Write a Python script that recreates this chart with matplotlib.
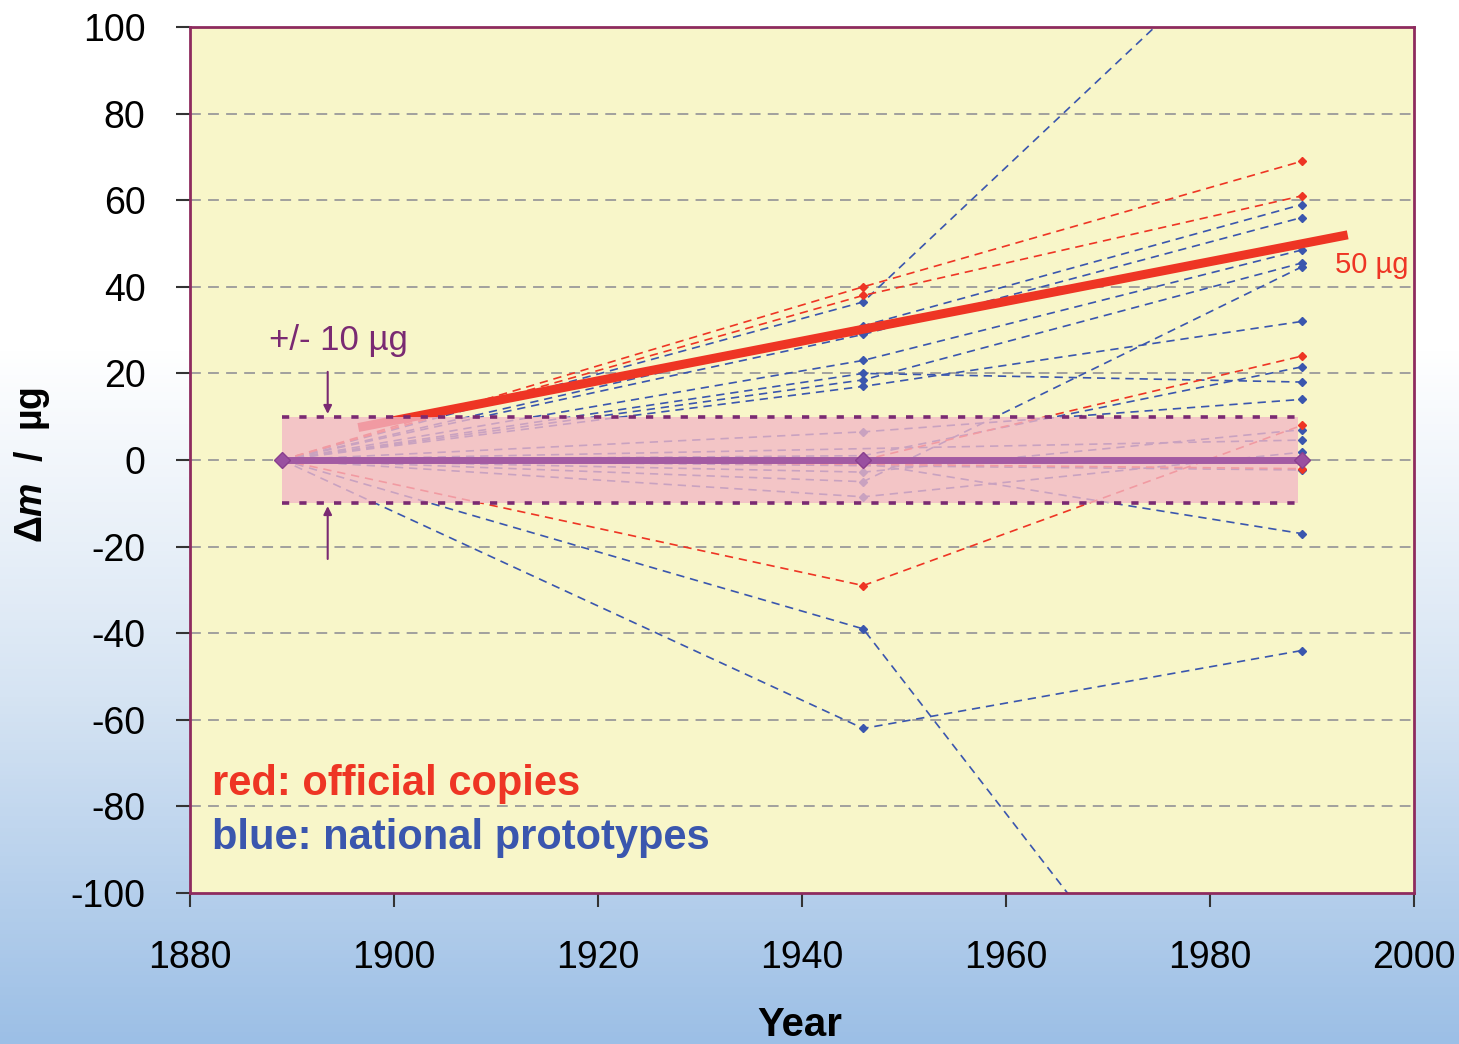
import numpy as np
import matplotlib.pyplot as plt
from matplotlib.colors import LinearSegmentedColormap

plt.rcParams['font.family'] = ['Liberation Sans', 'DejaVu Sans']
plt.rcParams['mathtext.fontset'] = 'custom'
plt.rcParams['mathtext.rm'] = 'Liberation Sans:bold'
plt.rcParams['mathtext.it'] = 'Liberation Sans:bold:italic'
plt.rcParams['axes.unicode_minus'] = False

# measurement campaigns
years = [1889, 1946, 1989]

# official copies (red), delta m in micrograms
red_series = [
    [0, 40, 69],
    [0, 38, 61],
    [0, -29, 8],
    [0, 0, 24],
    [0, -1, -2],
]

# national prototypes (blue)
blue_series = [
    [0, 36.5, 132],
    [0, 31, 59],
    [0, 29, 56],
    [0, 23, 48.5],
    [0, 20, 18],
    [0, 18.5, 45.5],
    [0, 17, 32],
    [0, 6.5, 14],
    [0, 1, 21.5],
    [0, -0.7, -17],
    [0, -2.8, 7],
    [0, -5, 44.6],
    [0, -8.5, 1.8],
    [0, -39, -170],
    [0, -62, -44],
]
# prototypes only measured in 1889 and 1989
blue_direct = [4.6, -2.3]

# reference line (international prototype) and mean trend
ref_vals = [0, 0, 0]
trend_x = [1896.5, 1993.5]
trend_y = [7.5, 52]

band_x = [1889, 1988.6]
band_lim = 10

xticks = [1880, 1900, 1920, 1940, 1960, 1980, 2000]
yticks = [-100, -80, -60, -40, -20, 0, 20, 40, 60, 80, 100]

RED = '#EE3524'
BLUE = '#3A56AE'
PURPLE = '#7A2A72'

fig = plt.figure(figsize=(14.59, 10.44), dpi=100)

# background gradient
bg = fig.add_axes([0, 0, 1, 1], zorder=-10)
grad = np.linspace(0, 1, 256).reshape(-1, 1)
cmap = LinearSegmentedColormap.from_list('bg', ['#9CBFE6', '#D6E4F3', '#FFFFFF', '#FFFFFF'])
bg.imshow(grad, aspect='auto', cmap=cmap, origin='lower', extent=[0, 1, 0, 1])
bg.axis('off')

ax = fig.add_axes([190 / 1459, 1 - 893 / 1044, 1224 / 1459, 866 / 1044])
ax.set_facecolor('#F8F6C9')

for yv in yticks[1:-1]:
    ax.axhline(yv, color='#9A9A9A', lw=1.3, dashes=(6, 4), zorder=1)

for s in blue_series:
    ax.plot(years, s, color=BLUE, lw=1.2, dashes=(5, 3.5), marker='D', ms=4.5, zorder=2)
for v in blue_direct:
    ax.plot([years[0], years[2]], [0, v], color=BLUE, lw=1.2, dashes=(5, 3.5),
            marker='D', ms=4.5, zorder=2)
for s in red_series:
    ax.plot(years, s, color=RED, lw=1.2, dashes=(5, 3.5), marker='D', ms=4.5, zorder=2)

ax.plot(trend_x, trend_y, color=RED, lw=6.5, solid_capstyle='butt', zorder=3)

# +/- 10 ug band
ax.fill_between(band_x, -band_lim, band_lim, color='#F2B8C6', alpha=0.78, lw=0, zorder=4)
for yb in (band_lim, -band_lim):
    ax.plot(band_x, [yb, yb], color=PURPLE, lw=2.6, dashes=(2, 2.8), zorder=5)

ax.plot(years, ref_vals, color='#A35BA3', lw=5, marker='D', ms=8,
        mec='#8A3F8E', mfc='#9A4FA0', zorder=6)

ax.annotate('', xy=(1893.5, band_lim), xytext=(1893.5, 21),
            arrowprops=dict(arrowstyle='-|>', color=PURPLE, lw=1.5, mutation_scale=12), zorder=7)
ax.annotate('', xy=(1893.5, -band_lim), xytext=(1893.5, -23.5),
            arrowprops=dict(arrowstyle='-|>', color=PURPLE, lw=1.5, mutation_scale=12), zorder=7)
ax.text(1887.7, 27.5, '+/- 10 µg', color=PURPLE, fontsize=25, ha='left', va='center', zorder=7)
ax.text(1992.3, 45, '50 µg', color=RED, fontsize=21, ha='left', va='center', zorder=7,
        clip_on=True)

ax.text(1882.2, -74.8, 'red: official copies', color=RED, fontsize=30, fontweight='bold',
        ha='left', va='center')
ax.text(1882.2, -87.2, 'blue: national prototypes', color=BLUE, fontsize=30, fontweight='bold',
        ha='left', va='center')

ax.set_xlim(1880, 2000)
ax.set_ylim(-100, 100)
ax.set_xticks(xticks)
ax.set_yticks(yticks)
ax.tick_params(axis='both', labelsize=27, length=10, width=1.5, color='#333333')
ax.tick_params(axis='x', pad=24)
ax.tick_params(axis='y', pad=22)
for sp in ax.spines.values():
    sp.set_color('#8E2B5E')
    sp.set_linewidth(2)

ax.set_xlabel('Year', fontsize=29, fontweight='bold')
ax.xaxis.set_label_coords(0.498, -0.13)
ax.set_ylabel(r'$\Delta\mathit{m}$  /  µg', fontsize=27, fontweight='bold')
ax.yaxis.set_label_coords(-0.113, 0.494)

fig.savefig('out.png', dpi=100)
